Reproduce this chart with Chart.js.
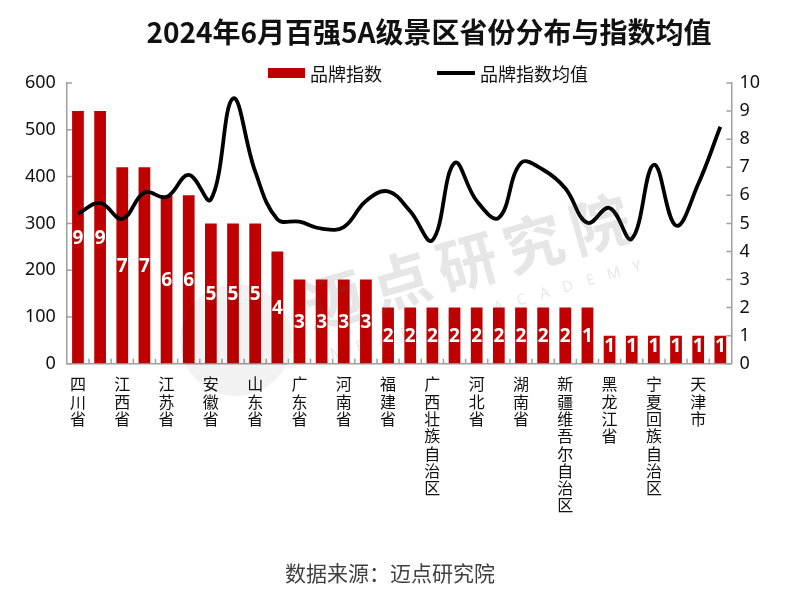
<!DOCTYPE html>
<html lang="zh-CN">
<head>
<meta charset="utf-8">
<title>2024年6月百强5A级景区省份分布与指数均值</title>
<script src="https://cdn.jsdelivr.net/npm/chart.js@4.4.1/dist/chart.umd.min.js"></script>
<style>
  html, body { margin: 0; padding: 0; background: #fff; }
  #wrap { position: relative; width: 800px; height: 590px; font-family: "Noto Sans CJK SC", "Noto Sans", sans-serif; color: #111; }
  #chart { position: absolute; left: 0; top: 0; }
  .title { position: absolute; left: 129px; width: 600px; top: 12px; text-align: center; font-size: 28px; line-height: 38px; font-weight: bold; color: #111; }
  .legend-text { position: absolute; top: 62px; font-size: 18px; line-height: 22px; color: #111; }
  .box { position: absolute; left: 268px; top: 68px; width: 37px; height: 10px; background: #c00000; }
  .stroke { position: absolute; left: 437px; top: 71px; width: 38px; height: 4px; background: #000; }
  .source { position: absolute; left: 190px; width: 400px; top: 558px; text-align: center; font-size: 21px; line-height: 28px; color: #404040; }
</style>
</head>
<body>
<div id="wrap">
  <canvas id="chart" width="800" height="590"></canvas>
  <div class="title">2024年6月百强5A级景区省份分布与指数均值</div>
  <div class="box"></div>
  <div class="legend-text" style="left:310px">品牌指数</div>
  <div class="stroke"></div>
  <div class="legend-text" style="left:480px">品牌指数均值</div>
  <div class="source">数据来源：迈点研究院</div>
</div>
<script>
// provinces (only every other one is labelled on the axis)
const provinces = [
  "四川省", "浙江省", "江西省", "湖北省", "江苏省", "云南省", "安徽省", "陕西省",
  "山东省", "贵州省", "广东省", "北京市", "河南省", "重庆市", "福建省", "甘肃省",
  "广西壮族自治区", "海南省", "河北省", "吉林省", "湖南省", "辽宁省",
  "新疆维吾尔自治区", "山西省", "黑龙江省", "内蒙古自治区", "宁夏回族自治区",
  "青海省", "天津市", "上海市"
];

// bar heights on the left axis
const barValues = [
  540, 540, 420, 420, 360, 360, 300, 300, 300, 240,
  180, 180, 180, 180, 120, 120, 120, 120, 120, 120,
  120, 120, 120, 120, 60, 60, 60, 60, 60, 60
];

// numbers printed on the bars
const barCounts = [
  9, 9, 7, 7, 6, 6, 5, 5, 5, 4,
  3, 3, 3, 3, 2, 2, 2, 2, 2, 2,
  2, 2, 2, 1, 1, 1, 1, 1, 1, 1
];

// 品牌指数均值 (right axis)
const avgValues = [
  5.34, 5.73, 5.16, 6.1, 5.94, 6.73, 5.85, 9.45, 6.85, 5.15,
  5.06, 4.81, 4.87, 5.8, 6.14, 5.43, 4.4, 7.15, 5.8, 5.2,
  7.15, 6.91, 6.25, 5.02, 5.55, 4.45, 7.09, 4.92, 6.4, 8.44
];

const leftTicks = [0, 600, 100];
const rightTicks = [0, 10, 1];

const axisGray = "#a0a0a0";
const tickFont = { family: '"Noto Sans", "Noto Sans CJK SC", sans-serif', size: 18 };

// short tick marks pointing into the plot, like the original
const innerTicks = {
  id: "innerTicks",
  beforeDatasetsDraw(chart) {
    const { ctx, chartArea, scales } = chart;
    ctx.save();
    ctx.strokeStyle = axisGray;
    ctx.lineWidth = 1.5;
    ctx.beginPath();
    scales.y.ticks.forEach((t) => {
      const y = scales.y.getPixelForValue(t.value);
      ctx.moveTo(chartArea.left, y);
      ctx.lineTo(chartArea.left + 5, y);
    });
    scales.y1.ticks.forEach((t) => {
      const y = scales.y1.getPixelForValue(t.value);
      ctx.moveTo(chartArea.right - 5, y);
      ctx.lineTo(chartArea.right, y);
    });
    const step = (chartArea.right - chartArea.left) / provinces.length;
    for (let i = 1; i < provinces.length; i++) {
      const x = chartArea.left + step * i;
      ctx.moveTo(x, chartArea.bottom);
      ctx.lineTo(x, chartArea.bottom - 5);
    }
    ctx.stroke();
    ctx.restore();
  }
};

// faint watermark
const watermark = {
  id: "watermark",
  afterDatasetsDraw(chart) {
    const ctx = chart.ctx;
    ctx.save();
    ctx.fillStyle = "rgba(0,0,0,0.05)";
    ctx.beginPath();
    ctx.arc(236, 340, 56, 0, Math.PI * 2);
    ctx.fill();
    ctx.translate(467, 262);
    ctx.rotate(-16 * Math.PI / 180);
    ctx.fillStyle = "rgba(90,90,90,0.15)";
    ctx.textAlign = "center";
    ctx.textBaseline = "middle";
    ctx.font = 'bold 60px "Noto Sans CJK SC", sans-serif';
    const name = "迈点研究院";
    for (let i = 0; i < name.length; i++) {
      ctx.fillText(name[i], (i - 2) * 69, 0);
    }
    ctx.font = '15px "Noto Sans", sans-serif';
    const sub = "MEADIN ACADEMY";
    for (let i = 0; i < sub.length; i++) {
      ctx.fillText(sub[i], -150 + i * 24, 52);
    }
    ctx.restore();
  }
};

// white count labels in the middle of each bar
const barLabels = {
  id: "barLabels",
  afterDatasetsDraw(chart) {
    const ctx = chart.ctx;
    const meta = chart.getDatasetMeta(1);
    ctx.save();
    ctx.fillStyle = "#fff";
    ctx.font = 'bold 19px "Open Sans", "Noto Sans", sans-serif';
    ctx.textAlign = "center";
    ctx.textBaseline = "middle";
    meta.data.forEach((bar, i) => {
      const y = Math.min((bar.y + bar.base) / 2, bar.base - 18);
      ctx.fillText(String(barCounts[i]), bar.x, y + 1);
    });
    ctx.restore();
  }
};

new Chart(document.getElementById("chart"), {
  data: {
    labels: provinces,
    datasets: [
      {
        type: "line",
        label: "品牌指数均值",
        data: avgValues,
        yAxisID: "y1",
        borderColor: "#000",
        borderWidth: 3.8,
        pointRadius: 0,
        tension: 0.4,
        fill: false,
        order: 0
      },
      {
        type: "bar",
        label: "品牌指数",
        data: barValues,
        yAxisID: "y",
        backgroundColor: "#c00000",
        barPercentage: 0.53,
        categoryPercentage: 1,
        order: 1
      }
    ]
  },
  options: {
    responsive: false,
    animation: false,
    layout: { padding: { top: 83, left: 14, right: 32, bottom: 64 } },
    plugins: {
      legend: { display: false },
      title: { display: false },
      tooltip: { enabled: false }
    },
    scales: {
      x: {
        offset: true,
        grid: { display: true, drawOnChartArea: false, drawTicks: false },
        border: { display: true, color: axisGray, width: 1.5 },
        ticks: {
          autoSkip: false,
          maxRotation: 0,
          minRotation: 0,
          padding: 12,
          color: "#111",
          font: { family: '"Noto Sans CJK SC", sans-serif', size: 16, lineHeight: 1.08 },
          callback: (value, index) => (index % 2 === 0 ? provinces[index].split("") : "")
        }
      },
      y: {
        position: "left",
        min: leftTicks[0],
        max: leftTicks[1],
        grid: { display: true, drawOnChartArea: false, drawTicks: false },
        border: { display: true, color: axisGray, width: 1.5 },
        ticks: { stepSize: leftTicks[2], padding: 11, color: "#111", font: tickFont }
      },
      y1: {
        position: "right",
        min: rightTicks[0],
        max: rightTicks[1],
        grid: { display: true, drawOnChartArea: false, drawTicks: false },
        border: { display: true, color: axisGray, width: 1.5 },
        ticks: { stepSize: rightTicks[2], padding: 8, color: "#111", font: tickFont }
      }
    }
  },
  plugins: [innerTicks, watermark, barLabels]
});
</script>
</body>
</html>
